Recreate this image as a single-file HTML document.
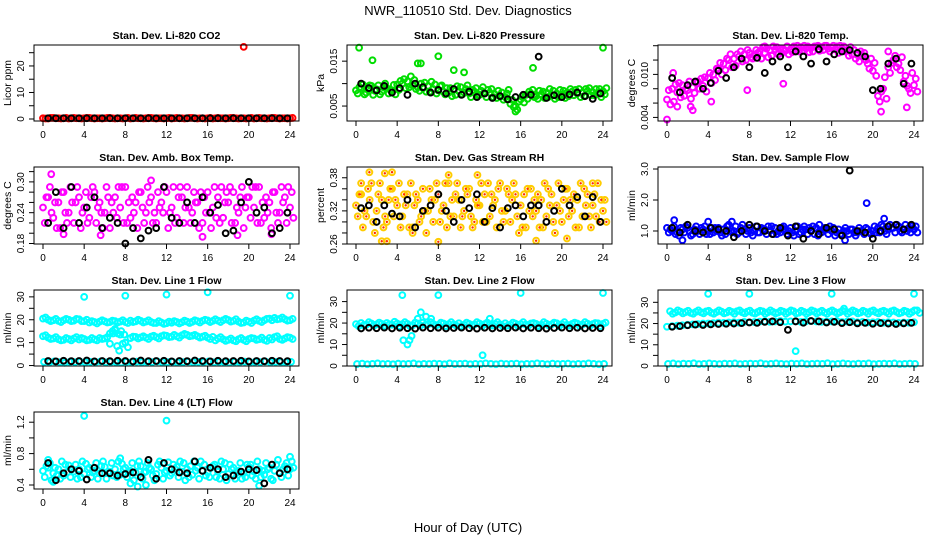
<!DOCTYPE html>
<html><head><meta charset="utf-8"><style>
html,body{margin:0;padding:0;background:#fff;}
svg{display:block;font-family:"Liberation Sans",sans-serif;}
</style></head><body>
<svg id="chart" width="936" height="540" viewBox="0 0 936 540" xmlns="http://www.w3.org/2000/svg">
<rect x="0" y="0" width="936" height="540" fill="#fff"/>
<text x="468" y="15" font-size="13" text-anchor="middle">NWR_110510  Std. Dev. Diagnostics</text>
<text x="468" y="532" font-size="13" text-anchor="middle">Hour of Day (UTC)</text>
</svg>
<script>
// x ticks shared
const xTicks = [0,4,8,12,16,20,24];

// Panel 1: CO2 (Licor ppm)
const p1RedA = [0.3,0.2,0.4,0.3,0.3,0.2,0.4,0.3,0.3,0.4,0.2,0.3,0.3,0.4,0.2,0.3,0.3,0.2,0.4,0.3,0.3,0.4,0.2,0.3,0.3,0.2,0.4,0.3,0.3,0.4,0.2,0.3,0.3,0.2,0.4,0.3,0.3,0.4,0.2,0.3,0.3,0.2,0.4,0.3,0.3,0.4,0.2,0.3,0.3];
const p1RedB = [0.2,0.4,0.3,0.2,0.4,0.3,0.3,0.2,0.4,0.3,0.3,0.2,0.4,0.3,0.3,0.2,0.4,0.3,0.3,0.2,0.4,0.3,0.3,0.2,0.4,0.3,0.3,0.2,0.4,0.3,0.3,0.2,0.4,0.3,0.3,0.2,0.4,0.3,0.3,0.2,0.4,0.3,0.3,0.2,0.4,0.3,0.3,0.2,0.4];
const p1Out = [[19.5,27.2]];
const p1Black = [0.3,0.3,0.3,0.3,0.3,0.3,0.3,0.3,0.3,0.3,0.3,0.3,0.3,0.3,0.3,0.3,0.3,0.3,0.3,0.3,0.3,0.3,0.3,0.3,0.3,0.3,0.3,0.3,0.3,0.3,0.3,0.3];

// Panel 2: Pressure (values in 0.001 kPa)
const p2A = [8.5,9,8,9.5,8.7,8.2,9,8.5,9.8,10,10.5,9.6,9.2,9,9.5,8.8,8.5,8.2,8,8.6,8.3,8,7.8,8.2,7.5,7.8,8,7.6,7.2,7,5.5,5,6.5,7.5,7.8,7.2,7.6,8,7.4,7.8,7.5,8,8.2,7.8,8,8.4,8.1,7.9,8.3];
const p2B = [7.8,9.8,8.8,7.5,9.6,9.2,7.8,9.7,8.6,11,9.2,10.8,8.4,10.2,8.2,9.8,9.4,7.6,9,7.5,9.2,8.8,7,9,8.4,7,8.8,6.8,8,7.8,6.4,4.2,7.2,6.6,8.6,6.6,8.2,7,8.4,7,8.4,7.2,7.4,8.8,7.2,9,7.4,8.8,7.6];
const p2C = [9.2,7.6,9.6,8.4,7.6,10,8.6,7.6,10.6,9,11.6,8.8,10,8.2,10.4,7.8,9.6,9,7.2,9.4,7.6,9.6,8.6,7.4,9.2,8.6,7,8.4,6.4,8.6,4.8,6,5.8,8.2,7,8.4,6.8,8.8,6.6,8.6,6.8,8.8,8.6,7,8.8,7.4,8.8,7,9];
const p2Out = [[0.3,18],[1.6,15.2],[6,14.5],[6.3,14.5],[8,16.1],[9.5,13],[10.5,12.5],[17.2,13.5],[24,18],[15.5,3.8]];
const p2Black = [10,9,8.5,9.5,8,9,7.5,10,9.2,8,8.6,7.8,8.8,7.5,8.2,7,7.8,6.8,7.2,6.5,7,7.5,7.5,16,6.8,7.4,7,7.6,8,7.2,6.6,7.8];

// Panel 3: Temp (values in 0.001 C)
const p3A = [6.5,8,7.5,8.5,7.8,8.2,9,8.4,9.5,10,10.8,11.5,12,12.2,12.5,12.8,13,12.6,13.2,13,13.4,13.5,13.6,13.3,13.5,13.7,13.8,13.6,13.7,13.9,13.8,14,13.7,13.9,13.6,13.4,12.8,12.7,12.5,11.5,10.5,7,8,11,12,11.5,9,8,8.5];
const p3B = [7.8,6.2,8.8,7,9,7.4,8,9.6,10.2,9.2,11.6,10.6,12.8,11.2,13.2,12,12.4,13.4,12.2,13.6,12.6,13.8,13,13.9,13.1,14,13.3,13.9,13.2,14,13.4,13.6,14,13,13.9,12.6,13.4,11.8,13,10.8,11.6,6.2,9.6,10.2,12.6,10.6,9.8,7.4,9.4];
const p3C = [5.8,8.6,6.8,8,6.6,8.8,9.4,7.6,8.8,10.8,10,12.2,11,12.8,11.8,13.4,12.2,13,13.8,12.4,13.9,12.8,13.5,12.8,13.9,13.2,14,13.1,13.9,13.3,14,13.2,13.5,14,13.2,13.8,12.2,13.2,12,12.2,9.8,7.6,6.6,11.6,11,12.4,8.4,10.2,7.6];
const p3Out = [[0,3.7],[0.6,10.2],[1,5.5],[2.3,5.5],[2.5,5],[4.3,6.2],[7.8,7.8],[11.3,8.7],[20.8,4.8],[21.5,13.2],[23.3,5.4],[9.5,13.9]];
const p3Black = [9.5,7.5,8.5,9,8,8.8,10.5,9.5,11,12.2,11,12.3,10.2,11.8,12.5,11,13.2,12.5,11.5,13.5,11.8,12.8,13.2,13.4,13,12.5,7.8,8,11.5,12.2,8.7,11.5];

// Panel 4: Amb box temp
const p4A = [.25,.27,.23,.26,.28,.24,.22,.27,.25,.23,.28,.26,.24,.21,.27,.25,.29,.23,.26,.28,.24,.27,.22,.26,.28,.25,.23,.27,.29,.24,.26,.22,.28,.25,.27,.23,.26,.28,.24,.21,.27,.25,.29,.23,.26,.28,.24,.27,.25];
const p4B = [.22,.29,.26,.21,.24,.29,.26,.21,.28,.27,.22,.24,.29,.26,.23,.29,.22,.27,.21,.25,.29,.22,.28,.24,.21,.29,.27,.22,.25,.28,.21,.27,.24,.29,.22,.26,.29,.22,.27,.25,.23,.29,.22,.27,.21,.24,.29,.22,.28];
const p4C = [.27,.24,.21,.28,.22,.26,.29,.24,.22,.29,.25,.21,.27,.24,.29,.22,.26,.24,.28,.22,.26,.24,.25,.29,.24,.22,.29,.25,.22,.26,.28,.24,.21,.23,.29,.28,.22,.25,.29,.27,.29,.22,.26,.24,.28,.22,.26,.29,.23];
const p4Out = [[0.8,.315],[2,.198],[5.6,.196],[15.5,.193],[10.5,.303],[18.9,.196],[22.2,.198]];
const p4Black = [.22,.28,.21,.29,.22,.25,.27,.21,.23,.22,.18,.21,.19,.205,.21,.29,.23,.22,.26,.22,.27,.24,.255,.2,.205,.26,.3,.24,.25,.2,.21,.24];

// Panel 5: Gas stream RH
const p5A = [.33,.35,.31,.37,.32,.34,.30,.36,.33,.31,.35,.29,.34,.36,.32,.30,.35,.33,.37,.31,.34,.32,.36,.30,.33,.35,.31,.34,.37,.32,.30,.35,.33,.29,.36,.32,.34,.31,.35,.33,.30,.36,.32,.34,.31,.35,.33,.37,.32];
const p5B = [.31,.29,.36,.30,.35,.29,.34,.31,.37,.35,.29,.33,.30,.32,.36,.34,.30,.37,.31,.35,.29,.36,.31,.34,.37,.30,.35,.29,.32,.36,.34,.31,.29,.36,.31,.35,.29,.36,.30,.37,.34,.31,.35,.29,.36,.31,.35,.30,.34];
const p5C = [.35,.32,.34,.28,.37,.31,.36,.34,.29,.33,.37,.35,.31,.28,.34,.37,.32,.29,.34,.37,.31,.35,.29,.33,.30,.37,.33,.36,.30,.35,.37,.28,.35,.32,.34,.29,.37,.33,.28,.32,.36,.34,.29,.37,.33,.29,.31,.34,.30];
const p5Out = [[0.5,.37],[1.3,.39],[2.8,.388],[3.5,.39],[2.5,.265],[3,.265],[5.5,.28],[8,.264],[11.8,.385],[9,.385],[17.5,.266],[20.5,.27],[23,.37]];
const p5Black = [.325,.33,.30,.33,.315,.31,.34,.29,.32,.33,.35,.32,.30,.34,.325,.35,.30,.325,.29,.325,.33,.31,.33,.33,.30,.32,.36,.33,.345,.31,.345,.30];

// Panel 6: Sample flow
const p6A = [1.1,1.0,0.95,1.05,1.1,0.9,1.0,1.05,1.0,0.95,1.1,1.05,1.2,1.0,0.95,1.05,1.1,1.0,0.95,1.05,1.0,1.1,0.95,1.05,1.1,1.0,0.95,1.05,1.0,1.1,0.95,1.05,1.0,0.95,0.9,1.0,1.05,0.95,1.0,1.05,1.0,1.1,1.15,1.05,1.1,1.15,1.05,1.1,1.05];
const p6B = [0.95,1.15,0.85,0.95,1.0,1.05,0.9,1.15,0.9,1.1,0.95,0.9,1.0,1.15,1.1,0.9,0.95,1.15,1.1,0.9,1.15,0.9,1.1,0.9,0.95,1.15,1.05,0.9,1.15,0.85,1.05,0.9,1.1,1.05,1.0,0.9,0.95,1.1,0.9,0.95,1.15,0.95,1.0,1.2,0.95,1.0,1.2,0.95,1.15];
const p6C = [1.05,0.9,1.1,1.15,0.85,1.15,1.1,0.9,1.1,1.0,0.85,1.15,0.95,0.9,1.2,1.0,0.85,0.95,1.05,1.15,0.9,1.0,1.15,1.0,0.85,0.9,1.15,1.1,0.9,1.0,1.1,1.15,0.85,0.9,1.1,1.05,0.85,1.0,1.1,0.9,0.95,1.2,0.9,1.1,1.2,0.95,1.0,1.15,0.95];
const p6Out = [[0.7,1.35],[1.5,0.7],[4,1.3],[6.3,1.3],[14.8,1.2],[17.3,0.7],[19.4,1.9],[21.1,1.4]];
const p6Black = [1.1,0.95,1.2,1.0,0.95,1.1,1.05,1.0,0.8,1.0,1.2,1.15,1.0,0.9,1.1,0.85,1.15,0.75,1.0,0.9,1.1,1.05,0.85,2.95,1.0,0.95,0.75,1.0,1.15,1.2,1.05,1.2];

// Panel 7: Line 1 flow
const p7UpA = [20.5,20,19.8,19.5,19.8,20,19.6,20.2,19.4,18.8,19,19.2,19.3,19,19.4,19.2,19,19.6,19.3,19.5,19.2,19,18.6,18.8,18.5,18.7,19,18.9,19.2,19.1,19.4,19.5,19.7,19.5,19.6,19.8,19.9,19.5,19.2,18.8,19.2,19.6,19.5,19.8,20.5,20.8,20.4,20.2,19.8];
const p7UpB = [21,19.4,20.4,19,20.4,19.4,20.4,19.4,20,19.4,18.4,19.8,18.8,19.6,18.8,19.8,18.6,19,20,18.8,19.8,18.6,19.4,18.2,19.2,19.4,18.4,19.6,18.6,19.8,18.8,20,19,20.2,19,20.4,19.2,20.2,18.6,19.6,18.6,20.2,19,20.4,19.8,20.2,21,19.6,20.4];
const p7LowA = [12.8,12.2,11.8,11.5,11.2,11.6,11.8,11.4,11.6,11.2,11.4,12,11.8,14,15.5,13.5,10,12,12.5,12.3,12.2,12.6,12.4,12.8,13,12.6,12.8,13.2,13.4,13,12.8,12.6,12.2,12.5,11.8,11.5,11.2,11,11.5,11.2,11.6,11.8,11.5,11.2,12,12.4,11.6,11.8,12.2];
const p7LowB = [13.2,11.6,12.4,11,12,11,12.4,12,11,12,11,11.6,12.4,15,14,9.5,8,12.6,11.8,12.8,11.6,13,11.8,13.2,12.4,13.4,12.2,13.8,12.8,13.4,12.2,13,11.6,11,12.4,10.8,11.8,10.6,12,10.6,12,11.2,12.2,10.8,11.4,12.8,11.2,12.4,11.6];
const p7Bot = [1.6,1.4,1.8,1.5,1.2,1.6,1.5,1.7,1.4,1.6,1.5,1.8,1.4,1.6,1.5,1.3,1.6,1.5,1.7,1.4,1.6,1.5,1.8,1.4,1.5,1.6,1.3,1.5,1.7,1.4,1.6,1.5,1.8,1.4,1.6,1.5,1.3,1.6,1.5,1.7,1.4,1.6,1.5,1.8,1.4,1.6,1.5,1.4,1.6];
const p7Out = [[4,30],[8,30.5],[12,31],[16,32],[24,30.5],[6.5,9.5],[6.8,14],[7,16],[7.2,8.5],[7.4,6.5],[7.6,15],[7.9,13.5],[8,10]];
const p7Black = [2,1.8,2.1,1.9,2,2.2,1.8,2,1.9,2.1,2,1.8,2.2,1.9,2,2.1,1.8,2,1.9,2.2,2,1.8,2.1,1.9,2,2.1,1.8,2,1.9,2.1,2,1.9];

// Panel 8: Line 2 flow
const p8A = [19.5,20,19.2,19.8,19.4,19.6,20,19.2,19.8,19.5,19.6,19,19.8,20.2,19.4,19.6,19.2,19.8,19.5,19.4,19.9,19.2,19.6,19.3,19.8,19.5,19.1,19.6,19.4,19.9,19.2,19.7,19.5,19.3,19.8,19.6,19.2,19.7,19.4,19.9,19.5,19.2,19.6,19.8,19.3,19.7,19.5,19.9,19.6];
const p8B = [18.6,19,20.4,18.8,20.2,18.8,19.4,20.6,18.6,20.4,18.6,20.2,18.8,19.2,20.4,18.8,20.2,18.6,20.4,18.8,18.6,20.2,18.8,20.4,18.6,20.2,18.8,20.4,18.6,18.8,20.2,18.6,20.4,18.8,20,18.6,20.4,18.8,20.2,18.6,20.4,18.8,20.2,18.6,20.4,18.8,20,18.6,20.2];
const p8Bot = [0.9,1.1,0.8,1,1.2,0.9,1,0.8,1.1,0.9,1,1.2,0.8,1,0.9,1.1,1,0.8,1.2,0.9,1,1.1,0.8,1,0.9,1.2,1,0.8,1.1,0.9,1,1.1,0.8,1,0.9,1.2,1,0.8,1.1,0.9,1,1.1,0.8,1,0.9,1.2,1,0.8,1];
const p8Out = [[4.5,33],[8,33],[16,34],[24,34],[4.6,12],[5,10],[5.2,12],[5.4,14],[6,22],[6.3,25],[6.8,23],[7.3,22],[12.3,5],[13,22]];
const p8Black = [17.5,17.8,17.6,17.9,17.5,17.8,17.6,17.4,17.9,17.6,17.8,17.5,17.7,17.9,17.6,17.4,17.8,17.5,17.7,17.6,17.9,17.5,17.8,17.6,17.4,17.7,17.9,17.6,17.8,17.5,17.7,17.6];

// Panel 9: Line 3 flow
const p9UpA = [25.8,25.2,25.6,25.4,25,25.5,25.3,25.7,25.1,25.4,25.6,25.2,25.5,25.8,25.3,25.6,25.1,25.4,25.7,25.3,25.5,25.2,25.6,25.4,25.8,25.1,25.5,25.3,25.7,25.4,25.2,25.6,25.5,25.3,25.8,25.4,25.6,25.2,25.5,25.7,25.3,25.6,25.4,25.8,25.5,25.2,25.6,25.4,26.2];
const p9UpB = [24.6,26.2,24.8,26,24.6,26.2,24.8,26,24.6,26.2,24.8,26,24.6,26.2,24.8,26.1,24.7,26,24.6,26.2,24.8,26,24.6,26.2,24.8,26,24.6,26.2,24.8,26,24.6,26.2,24.8,26,24.6,26.2,24.8,26,24.6,26.2,24.8,26,24.6,26.2,24.8,26,24.6,26.2,25];
const p9Mid = [18.5,18.8,19,19.2,19.4,19.6,19.8,20,20,20.2,20.4,20.3,20.5,20.6,20.4,20.8,20.6,20.7,20.9,21,20.8,21,21.2,20.9,21,21.1,20.8,21,21.2,21,20.8,20.9,21,21.2,20.7,20.9,21,20.6,20.8,20.5,20.6,20.7,20.4,20.6,20.5,20.3,20.5,20.4,20.6];
const p9Bot = [1,1.2,0.9,1.1,1,1.3,0.9,1,1.2,1,0.9,1.1,1,1.2,0.9,1,1.1,1,1.3,0.9,1,1.2,1,0.9,1.1,1,1.2,0.9,1,1.1,1,1.3,0.9,1,1.2,1,0.9,1.1,1,1.2,0.9,1,1.1,1,1.2,0.9,1,1.1,1];
const p9Out = [[4,34],[8,34],[16,34],[24,34],[12.5,7],[17.2,27]];
const p9Black = [18.5,18.8,19.2,19.5,19.3,19.6,19.8,19.9,20,20.2,20.5,20.3,20.8,21,20.6,17,21,20.4,21.2,21,20.5,20.8,20.2,20.6,20.1,20.3,19.9,20.2,20,19.8,20.1,20.3];

// Panel 10: Line 4 (LT) flow
const p10A = [.58,.62,.55,.6,.52,.65,.57,.6,.54,.62,.58,.55,.63,.57,.6,.53,.62,.58,.56,.64,.57,.6,.54,.62,.58,.55,.63,.57,.6,.53,.62,.58,.56,.64,.57,.6,.54,.62,.58,.55,.63,.57,.6,.53,.62,.58,.56,.64,.6];
const p10B = [.5,.68,.62,.48,.66,.5,.66,.5,.67,.5,.68,.64,.48,.68,.5,.67,.5,.68,.64,.48,.68,.52,.66,.48,.69,.66,.5,.68,.5,.7,.48,.66,.5,.66,.48,.68,.66,.48,.68,.5,.66,.48,.5,.68,.48,.66,.5,.68,.7];
const p10C = [.64,.46,.52,.7,.56,.6,.48,.7,.6,.56,.48,.7,.56,.52,.7,.6,.56,.46,.7,.56,.62,.46,.7,.56,.52,.6,.7,.46,.64,.58,.7,.52,.62,.5,.7,.46,.6,.56,.48,.66,.52,.7,.58,.6,.46,.72,.6,.52,.62];
const p10Out = [[0.5,.72],[1,.44],[4,1.28],[7.5,.74],[9.2,.38],[10,.4],[12,1.22],[21,.39],[24,.76],[8.5,.42]];
const p10Black = [.68,.46,.55,.6,.58,.47,.62,.55,.55,.52,.54,.56,.5,.72,.48,.68,.6,.56,.55,.7,.58,.62,.6,.5,.52,.57,.6,.59,.42,.66,.55,.6];

const CYAN='#00ffff', MAG='#ff00ff';
const panels = [
 {name:'co2',col:0,row:0,title:'Stan. Dev. Li-820 CO2',ylab:'Licor ppm',ylim:[-0.75,27.9],ticks:[0,5,10,15,20,25],tl:['0','','10','','20',''],
  series:[[p1RedA,0,'red'],[p1RedB,0.25,'red']],out:[p1Out,'red'],black:p1Black},
 {name:'pressure',col:1,row:0,title:'Stan. Dev. Li-820 Pressure',ylab:'kPa',ylim:[1.67,18.6],ticks:[5,10,15],tl:['0.005','','0.015'],
  series:[[p2A,0,'#00dd00'],[p2B,0.17,'#00dd00'],[p2C,0.33,'#00dd00']],out:[p2Out,'#00dd00'],black:p2Black},
 {name:'temp',col:2,row:0,title:'Stan. Dev. Li-820 Temp.',ylab:'degrees C',ylim:[3.5,14.1],ticks:[4,6,8,10,12,14],tl:['0.004','','','0.010','',''],
  series:[[p3A,0,MAG],[p3B,0.17,MAG],[p3C,0.33,MAG]],out:[p3Out,MAG],black:p3Black},
 {name:'amb-box-temp',col:0,row:1,title:'Stan. Dev. Amb. Box Temp.',ylab:'degrees C',ylim:[0.179,0.329],ticks:[.18,.20,.22,.24,.26,.28,.30,.32],tl:['0.18','','','0.24','','','0.30',''],
  series:[[p4A,0,MAG],[p4B,0.17,MAG],[p4C,0.33,MAG]],out:[p4Out,MAG],black:p4Black},
 {name:'gas-stream-rh',col:1,row:1,title:'Stan. Dev. Gas Stream RH',ylab:'percent',ylim:[0.26,0.3995],ticks:[.26,.28,.30,.32,.34,.36,.38],tl:['0.26','','','0.32','','','0.38'],
  series:[[p5A,0,'rh'],[p5B,0.17,'rh'],[p5C,0.33,'rh']],out:[p5Out,'rh'],black:p5Black},
 {name:'sample-flow',col:2,row:1,title:'Stan. Dev. Sample Flow',ylab:'ml/min',ylim:[0.58,3.065],ticks:[1,2,3],tl:['1.0','2.0','3.0'],
  series:[[p6A,0,'#0000ff'],[p6B,0.17,'#0000ff'],[p6C,0.33,'#0000ff']],out:[p6Out,'#0000ff'],black:p6Black},
 {name:'line1-flow',col:0,row:2,title:'Stan. Dev. Line 1 Flow',ylab:'ml/min',ylim:[-0.2,33],ticks:[0,5,10,15,20,25,30],tl:['0','','10','','20','','30'],
  series:[[p7UpA,0,CYAN],[p7UpB,0.25,CYAN],[p7LowA,0,CYAN],[p7LowB,0.25,CYAN],[p7Bot,0.1,CYAN]],out:[p7Out,CYAN],black:p7Black},
 {name:'line2-flow',col:1,row:2,title:'Stan. Dev. Line 2 Flow',ylab:'ml/min',ylim:[0,35.4],ticks:[0,5,10,15,20,25,30],tl:['0','','10','','20','','30'],
  series:[[p8A,0,CYAN],[p8B,0.25,CYAN],[p8Bot,0.1,CYAN]],out:[p8Out,CYAN],black:p8Black},
 {name:'line3-flow',col:2,row:2,title:'Stan. Dev. Line 3 Flow',ylab:'ml/min',ylim:[0,35.8],ticks:[0,5,10,15,20,25,30],tl:['0','','10','','20','','30'],
  series:[[p9UpA,0.3,CYAN],[p9UpB,0.55,CYAN],[p9Mid,0,CYAN],[p9Bot,0.1,CYAN]],out:[p9Out,CYAN],black:p9Black},
 {name:'line4-flow',col:0,row:3,title:'Stan. Dev. Line 4 (LT) Flow',ylab:'ml/min',ylim:[0.349,1.33],ticks:[.4,.6,.8,1.0,1.2],tl:['0.4','','0.8','','1.2'],
  series:[[p10A,0,CYAN],[p10B,0.17,CYAN],[p10C,0.33,CYAN]],out:[p10Out,CYAN],black:p10Black}
];

const svg = document.getElementById('chart');
const NS = 'http://www.w3.org/2000/svg';
const LEFTS=[34,347,658], TOPS=[45,167,290,412], HS=[76,77,76,77], W=265;
function mk(tag, attrs, parent){
  const e=document.createElementNS(NS,tag);
  for(const k in attrs) e.setAttribute(k,attrs[k]);
  parent.appendChild(e); return e;
}
function dot(g,x,y,color,nm){
  if(color==='rh'){
    const c=mk('circle',{cx:x,cy:y,r:2.9,fill:'none',stroke:'#ffcc00','stroke-width':2},g);
    
    
    mk('circle',{cx:x,cy:y,r:1.2,fill:'#ff2a00'},g);
  } else {
    const c=mk('circle',{cx:x,cy:y,r:2.9,fill:'none',stroke:color,'stroke-width':2},g);
    
    
  }
}
panels.forEach(p=>{
  const left=LEFTS[p.col], top=TOPS[p.row], H=HS[p.row], bottom=top+H, right=left+W;
  const xs=h=>left+9+h*(W-18)/24;
  const ys=v=>bottom-(v-p.ylim[0])/(p.ylim[1]-p.ylim[0])*H;
  const g=mk('g',{},svg);
  
  
  const t=mk('text',{x:(left+right)/2,y:top-6,'font-size':10.5,'font-weight':'bold','text-anchor':'middle'},g);
  t.textContent=p.title;
  
  
  const yl=mk('text',{x:left-23,y:(top+bottom)/2,'font-size':10.5,'text-anchor':'middle',transform:`rotate(-90 ${left-23} ${(top+bottom)/2})`},g);
  yl.textContent=p.ylab;
  
  
  const dg=mk('g',{},g);
  
  
  p.series.forEach(s=>{
    s[0].forEach((v,i)=>{ dot(dg,xs(s[1]+i*0.5),ys(v),s[2],'point'); });
  });
  p.out[0].forEach(o=>{ dot(dg,xs(o[0]),ys(o[1]),p.out[1],'outlier-point'); });
  p.black.forEach((v,k)=>{ dot(dg,xs(0.5+k*0.75),ys(v),'#000','reference-point'); });
  const b=mk('rect',{x:left,y:top,width:W,height:H,fill:'none',stroke:'#000','stroke-width':1},g);
  
  
  xTicks.forEach(h=>{
    const x=xs(h);
    mk('line',{x1:x,y1:bottom,x2:x,y2:bottom+5,stroke:'#000'},g);
    const tx=mk('text',{x:x,y:bottom+17,'font-size':10,'text-anchor':'middle'},g);
    tx.textContent=String(h);
    
    
  });
  p.ticks.forEach((v,i)=>{
    const y=ys(v);
    mk('line',{x1:left,y1:y,x2:left-5,y2:y,stroke:'#000'},g);
    if(p.tl[i]){
      const ty=mk('text',{x:left-10,y:y,'font-size':10,'text-anchor':'middle',transform:`rotate(-90 ${left-10} ${y})`},g);
      ty.textContent=p.tl[i];
      
      
    }
  });
});
</script>
</body></html>
